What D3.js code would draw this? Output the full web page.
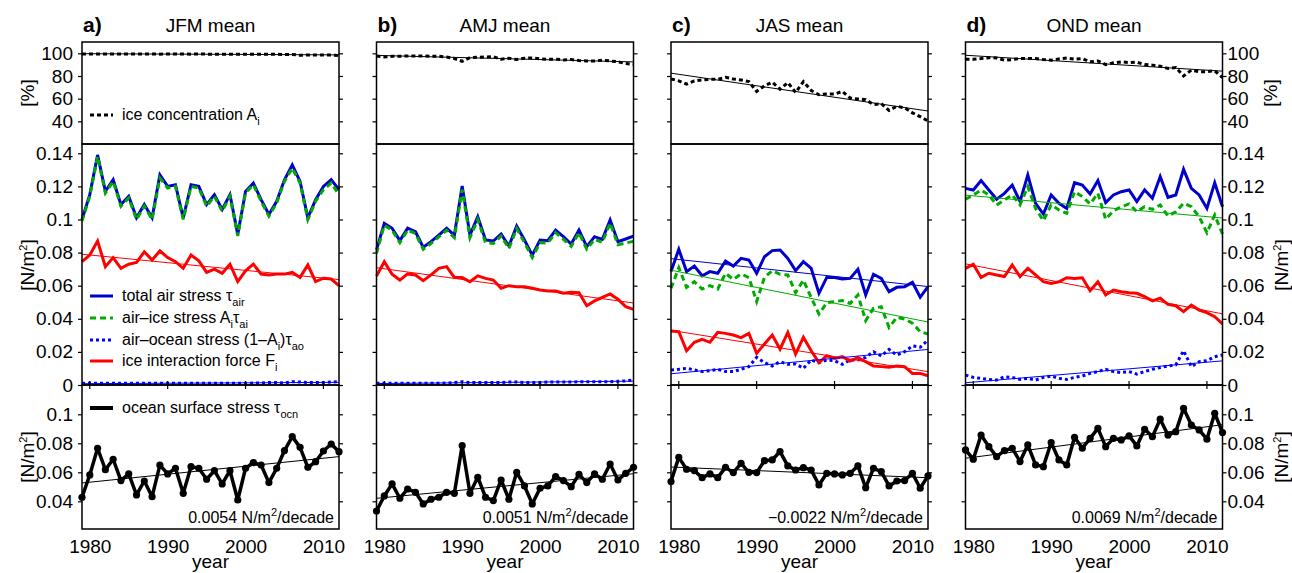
<!DOCTYPE html>
<html>
<head>
<meta charset="utf-8">
<script src="https://cdn.jsdelivr.net/npm/d3@7"></script>
<style>
body { margin: 0; background: #fff; }
text { font-family: "Liberation Sans", Arial, Helvetica, sans-serif; fill: #000; }
</style>
</head>
<body>
<svg id="chart" width="1292" height="573"></svg>
<script>
// years on the x axis
const years = d3.range(1979, 2013);
const xTicks = [1980, 1990, 2000, 2010];

// ice concentration [%]
const iceJFM = [99.5,99.4,99.5,99.5,99.4,99.5,99.5,99.4,99.4,99.5,99.3,99.4,99.4,99.4,99.3,99.4,99.3,99.3,99.2,99.3,99.2,99.3,99.1,99.2,99.2,99.1,99.0,99.0,98.3,98.6,98.6,98.5,98.6,98.0];
const iceAMJ = [97.7,96.8,97.4,97.4,97.7,97.7,97.7,97.4,97.4,96.8,95.4,93.0,96.2,96.5,96.8,97.1,94.8,95.7,94.5,95.7,95.9,95.1,94.8,94.8,94.2,94.5,93.6,93.3,93.3,93.9,93.3,92.5,91.0,90.4];
const iceJAS = [77.4,75.7,72.8,75.7,76.5,77.1,77.1,78.8,77.4,76.5,75.1,66.4,71.3,74.5,68.4,74.2,65.5,75.1,67.2,63.5,64.1,64.1,66.4,60.6,59.7,59.1,54.8,55.7,49.6,53.3,51.9,47.5,44.1,40.3];
const iceOND = [94.8,94.8,95.4,96.2,95.9,93.9,94.5,95.4,95.4,95.4,94.5,93.9,95.1,95.9,94.8,95.4,92.5,93.3,90.1,91.6,92.5,91.9,92.2,90.1,89.6,88.7,86.7,87.5,80.0,85.2,83.8,83.8,84.6,78.6];

// total air stress [N/m2]
const airJFM = [0.100,0.115,0.139,0.117,0.124,0.109,0.114,0.101,0.109,0.101,0.127,0.120,0.121,0.101,0.121,0.120,0.109,0.115,0.106,0.115,0.091,0.117,0.122,0.112,0.103,0.111,0.124,0.133,0.123,0.101,0.112,0.120,0.124,0.118];
const airAMJ = [0.0816,0.0977,0.0947,0.0872,0.0947,0.0926,0.0832,0.0866,0.0906,0.0947,0.0906,0.1202,0.0906,0.1017,0.0876,0.0870,0.0912,0.0840,0.0960,0.0876,0.0785,0.0876,0.0872,0.0936,0.0896,0.0852,0.0936,0.0836,0.0896,0.0880,0.0997,0.0866,0.0882,0.0900];
const airJAS = [0.0685,0.0820,0.0685,0.0719,0.0660,0.0685,0.0675,0.0749,0.0719,0.0765,0.0755,0.0675,0.0775,0.0812,0.0816,0.0765,0.0691,0.0745,0.0705,0.0554,0.0650,0.0650,0.0640,0.0644,0.0699,0.0544,0.0669,0.0644,0.0564,0.0590,0.0594,0.0620,0.0530,0.0594];
const airOND = [0.1188,0.1178,0.1235,0.1178,0.1122,0.1158,0.1208,0.1108,0.1269,0.1098,0.1033,0.1148,0.1098,0.1067,0.1222,0.1208,0.1154,0.1235,0.1102,0.1148,0.1168,0.1178,0.1108,0.1178,0.1128,0.1259,0.1134,0.1148,0.1303,0.1188,0.1148,0.1067,0.1222,0.1077];

// air-ice stress Ai*tau_ai
const aiJFM = [0.099,0.114,0.138,0.116,0.123,0.108,0.113,0.100,0.108,0.100,0.125,0.119,0.120,0.100,0.120,0.119,0.108,0.114,0.105,0.114,0.090,0.116,0.121,0.111,0.102,0.110,0.123,0.131,0.122,0.100,0.111,0.118,0.122,0.115];
const aiAMJ = [0.0795,0.0965,0.0935,0.0860,0.0935,0.0915,0.0820,0.0855,0.0895,0.0935,0.0890,0.1180,0.0890,0.1000,0.0860,0.0855,0.0900,0.0825,0.0945,0.0860,0.0770,0.0860,0.0858,0.0920,0.0880,0.0838,0.0920,0.0820,0.0880,0.0862,0.0978,0.0848,0.0858,0.0868];
const aiJAS = [0.0584,0.0709,0.0590,0.0624,0.0580,0.0600,0.0580,0.0675,0.0638,0.0671,0.0649,0.0504,0.0650,0.0691,0.0669,0.0665,0.0558,0.0634,0.0528,0.0429,0.0497,0.0504,0.0510,0.0493,0.0544,0.0389,0.0463,0.0473,0.0348,0.0409,0.0399,0.0373,0.0322,0.0308];
const aiOND = [0.1122,0.1148,0.1178,0.1148,0.1088,0.1118,0.1148,0.1088,0.1198,0.1067,0.0993,0.1088,0.1057,0.1037,0.1168,0.1138,0.1094,0.1158,0.1001,0.1053,0.1077,0.1094,0.1047,0.1077,0.1061,0.1088,0.1021,0.1047,0.1098,0.1077,0.1017,0.0920,0.1027,0.0912];

// air-ocean stress (1-Ai)*tau_ao
const aoJFM = [0.0010,0.0010,0.0010,0.0010,0.0010,0.0010,0.0010,0.0010,0.0010,0.0010,0.0010,0.0010,0.0010,0.0010,0.0010,0.0010,0.0010,0.0010,0.0010,0.0010,0.0010,0.0010,0.0012,0.0012,0.0015,0.0015,0.0012,0.0020,0.0018,0.0015,0.0015,0.0015,0.0018,0.0020];
const aoAMJ = [0.0010,0.0010,0.0010,0.0010,0.0010,0.0010,0.0010,0.0010,0.0010,0.0012,0.0015,0.0020,0.0015,0.0015,0.0015,0.0015,0.0015,0.0018,0.0018,0.0015,0.0015,0.0015,0.0018,0.0018,0.0018,0.0018,0.0020,0.0020,0.0020,0.0020,0.0020,0.0022,0.0025,0.0030];
const aoJAS = [0.0091,0.0095,0.0101,0.0091,0.0081,0.0087,0.0095,0.0081,0.0081,0.0095,0.0111,0.0167,0.0135,0.0115,0.0141,0.0125,0.0127,0.0101,0.0151,0.0135,0.0151,0.0147,0.0125,0.0151,0.0151,0.0167,0.0201,0.0175,0.0215,0.0181,0.0201,0.0236,0.0228,0.0272];
const aoOND = [0.0060,0.0046,0.0040,0.0034,0.0030,0.0050,0.0046,0.0034,0.0040,0.0030,0.0046,0.0054,0.0040,0.0034,0.0046,0.0054,0.0070,0.0081,0.0095,0.0081,0.0075,0.0081,0.0066,0.0081,0.0095,0.0105,0.0115,0.0121,0.0207,0.0111,0.0141,0.0147,0.0171,0.0181];

// ice interaction force Fi
const fiJFM = [0.0745,0.0785,0.0870,0.0715,0.0770,0.0705,0.0730,0.0740,0.0805,0.0755,0.0810,0.0770,0.0745,0.0705,0.0785,0.0750,0.0680,0.0700,0.0675,0.0730,0.0625,0.0690,0.0730,0.0670,0.0665,0.0670,0.0670,0.0680,0.0650,0.0725,0.0625,0.0645,0.0640,0.0600];
const fiAMJ = [0.0659,0.0745,0.0669,0.0634,0.0671,0.0665,0.0630,0.0665,0.0705,0.0715,0.0650,0.0649,0.0624,0.0659,0.0644,0.0634,0.0584,0.0600,0.0594,0.0594,0.0584,0.0574,0.0568,0.0568,0.0554,0.0560,0.0558,0.0479,0.0508,0.0530,0.0550,0.0518,0.0473,0.0457];
const fiJAS = [0.0326,0.0322,0.0207,0.0258,0.0276,0.0258,0.0318,0.0312,0.0302,0.0286,0.0312,0.0191,0.0248,0.0302,0.0217,0.0318,0.0187,0.0288,0.0207,0.0135,0.0177,0.0161,0.0171,0.0145,0.0165,0.0141,0.0115,0.0111,0.0107,0.0115,0.0111,0.0070,0.0070,0.0056];
const fiOND = [0.0705,0.0729,0.0650,0.0675,0.0665,0.0655,0.0725,0.0655,0.0705,0.0665,0.0624,0.0614,0.0624,0.0648,0.0644,0.0648,0.0570,0.0624,0.0544,0.0574,0.0564,0.0558,0.0554,0.0534,0.0508,0.0524,0.0487,0.0479,0.0443,0.0483,0.0453,0.0437,0.0413,0.0369];

// ocean surface stress tau_ocn
const ocnJFM = [0.0428,0.0582,0.0766,0.0618,0.0690,0.0543,0.0589,0.0444,0.0540,0.0432,0.0650,0.0589,0.0628,0.0455,0.0639,0.0628,0.0552,0.0611,0.0520,0.0611,0.0409,0.0628,0.0667,0.0650,0.0529,0.0628,0.0750,0.0846,0.0772,0.0634,0.0673,0.0747,0.0795,0.0742];
const ocnAMJ = [0.0333,0.0437,0.0520,0.0421,0.0485,0.0462,0.0382,0.0414,0.0428,0.0462,0.0455,0.0784,0.0455,0.0566,0.0428,0.0405,0.0547,0.0414,0.0600,0.0506,0.0382,0.0490,0.0506,0.0570,0.0543,0.0501,0.0586,0.0529,0.0589,0.0552,0.0657,0.0547,0.0593,0.0634];
const ocnJAS = [0.0536,0.0703,0.0621,0.0611,0.0563,0.0589,0.0563,0.0634,0.0598,0.0662,0.0600,0.0598,0.0680,0.0685,0.0743,0.0644,0.0616,0.0632,0.0616,0.0513,0.0593,0.0589,0.0582,0.0593,0.0644,0.0494,0.0628,0.0605,0.0506,0.0540,0.0543,0.0593,0.0490,0.0575];
const ocnOND = [0.0754,0.0690,0.0857,0.0777,0.0708,0.0749,0.0766,0.0674,0.0789,0.0651,0.0639,0.0805,0.0685,0.0651,0.0841,0.0766,0.0834,0.0903,0.0777,0.0834,0.0823,0.0851,0.0782,0.0897,0.0846,0.0966,0.0857,0.0880,0.1041,0.0926,0.0892,0.0828,0.1007,0.0874];

const letters = ["a)", "b)", "c)", "d)"];
const titles = ["JFM mean", "AMJ mean", "JAS mean", "OND mean"];
const slopes = ["0.0054", "0.0051", "\u22120.0022", "0.0069"];

const topTicks = [40, 60, 80, 100];
const midTicks = [0, 0.02, 0.04, 0.06, 0.08, 0.1, 0.12, 0.14];
const botTicks = [0.04, 0.06, 0.08, 0.1];

const panels = [
  {ice: iceJFM, air: airJFM, ai: aiJFM, ao: aoJFM, fi: fiJFM, ocn: ocnJFM, trends: ["fi", "ao"]},
  {ice: iceAMJ, air: airAMJ, ai: aiAMJ, ao: aoAMJ, fi: fiAMJ, ocn: ocnAMJ, trends: ["fi", "ao"]},
  {ice: iceJAS, air: airJAS, ai: aiJAS, ao: aoJAS, fi: fiJAS, ocn: ocnJAS, trends: ["air", "ai", "fi", "ao"]},
  {ice: iceOND, air: airOND, ai: aiOND, ao: aoOND, fi: fiOND, ocn: ocnOND, trends: ["ai", "fi", "ao"]}
];

const colors = {air: "#0000cc", ai: "#00aa00", ao: "#0000ff", fi: "#ff0000"};

// layout
const lefts = [82, 376.5, 671, 965.5];
const W = 257;
const rowTop = {y0: 42, y1: 144};
const rowMid = {y0: 144, y1: 385};
const rowBot = {y0: 385, y1: 529};

const svg = d3.select("#chart");
const x = d3.scaleLinear().domain([1979, 2012]).range([0, W]);
const yTop = d3.scaleLinear().domain([20, 110]).range([rowTop.y1 - rowTop.y0, 0]);
const yMid = d3.scaleLinear().domain([0, 0.1456]).range([rowMid.y1 - rowMid.y0, 0]);
const yBot = d3.scaleLinear().domain([0.0209, 0.1202]).range([rowBot.y1 - rowBot.y0, 0]);

const fmt = d => d === 0 ? "0" : String(+d.toFixed(2));

function fit(vals) {
  const mx = d3.mean(years), my = d3.mean(vals);
  let sxy = 0, sxx = 0;
  years.forEach((yr, i) => { sxy += (yr - mx) * (vals[i] - my); sxx += (yr - mx) * (yr - mx); });
  const b = sxy / sxx;
  return [1979, 2012].map(yr => ({yr: yr, v: my + b * (yr - mx)}));
}

function drawAxes(g, y, ticks, i) {
  const left = d3.axisLeft(y).tickValues(ticks).tickSize(4).tickSizeOuter(0).tickPadding(5)
    .tickFormat(i === 0 ? fmt : "");
  const right = d3.axisRight(y).tickValues(ticks).tickSize(4).tickSizeOuter(0).tickPadding(1)
    .tickFormat(i === 3 ? fmt : "");
  g.append("g").call(left).call(a => a.select(".domain").remove());
  g.append("g").attr("transform", `translate(${W},0)`).call(right).call(a => a.select(".domain").remove());
  g.selectAll(".tick text").attr("font-size", 19).attr("font-family", "Liberation Sans, Arial, sans-serif");
  g.selectAll(".tick line").attr("stroke", "#000").attr("stroke-width", 1.2);
}

// text with sub/superscripts; the shift back is put on the next piece
function addSub(t, parts) {
  let back = 0;
  parts.forEach(p => {
    if (p.sub) { t.append("tspan").attr("dy", 5 + back).attr("font-size", 11).text(p.sub); back = -5; }
    else if (p.sup) { t.append("tspan").attr("dy", -7 + back).attr("font-size", 11).text(p.sup); back = 7; }
    else { t.append("tspan").attr("dy", back).text(p.t); back = 0; }
  });
}

panels.forEach((p, i) => {
  const L = lefts[i];

  // headings
  svg.append("text").attr("x", L + 1).attr("y", 32).attr("font-size", 21).attr("font-weight", "bold").text(letters[i]);
  svg.append("text").attr("x", L + W / 2).attr("y", 32).attr("font-size", 19).attr("text-anchor", "middle").text(titles[i]);

  // ---- top row: ice concentration
  const gt = svg.append("g").attr("transform", `translate(${L},${rowTop.y0})`);
  drawAxes(gt, yTop, topTicks, i);
  const lineTop = d3.line().x((d, k) => x(years[k])).y(d => yTop(d));
  gt.append("path").datum(p.ice).attr("d", lineTop).attr("fill", "none")
    .attr("stroke", "#000").attr("stroke-width", 3).attr("stroke-dasharray", "4,3");
  gt.append("path").datum(fit(p.ice)).attr("fill", "none").attr("stroke", "#000").attr("stroke-width", 1)
    .attr("d", d3.line().x(d => x(d.yr)).y(d => yTop(d.v)));

  // ---- middle row: stresses
  const gm = svg.append("g").attr("transform", `translate(${L},${rowMid.y0})`);
  drawAxes(gm, yMid, midTicks, i);
  const lineMid = d3.line().x((d, k) => x(years[k])).y(d => yMid(d));
  gm.append("path").datum(p.air).attr("d", lineMid).attr("fill", "none").attr("stroke", colors.air).attr("stroke-width", 3);
  gm.append("path").datum(p.ai).attr("d", lineMid).attr("fill", "none").attr("stroke", colors.ai).attr("stroke-width", 3).attr("stroke-dasharray", "6,4");
  gm.append("path").datum(p.ao).attr("d", lineMid).attr("fill", "none").attr("stroke", colors.ao).attr("stroke-width", 3).attr("stroke-dasharray", "3,3");
  gm.append("path").datum(p.fi).attr("d", lineMid).attr("fill", "none").attr("stroke", colors.fi).attr("stroke-width", 3);
  p.trends.forEach(k => {
    gm.append("path").datum(fit(p[k])).attr("fill", "none").attr("stroke", colors[k]).attr("stroke-width", 1)
      .attr("d", d3.line().x(d => x(d.yr)).y(d => yMid(d.v)));
  });

  // ---- bottom row: ocean surface stress
  const gb = svg.append("g").attr("transform", `translate(${L},${rowBot.y0})`);
  drawAxes(gb, yBot, botTicks, i);
  const lineBot = d3.line().x((d, k) => x(years[k])).y(d => yBot(d));
  gb.append("path").datum(fit(p.ocn)).attr("fill", "none").attr("stroke", "#000").attr("stroke-width", 1)
    .attr("d", d3.line().x(d => x(d.yr)).y(d => yBot(d.v)));
  gb.append("path").datum(p.ocn).attr("d", lineBot).attr("fill", "none").attr("stroke", "#000").attr("stroke-width", 3.5).attr("stroke-linejoin", "round");
  gb.selectAll("circle").data(p.ocn).enter().append("circle")
    .attr("cx", (d, k) => x(years[k])).attr("cy", d => yBot(d)).attr("r", 3.6).attr("fill", "#000");

  const st = gb.append("text").attr("x", W - 5).attr("y", 138).attr("font-size", 16).attr("text-anchor", "end");
  addSub(st, [{t: slopes[i] + " N/m"}, {sup: "2"}, {t: "/decade"}]);

  // x ticks across the middle/bottom boundary
  svg.append("g").selectAll("line").data(xTicks).enter().append("line")
    .attr("x1", d => L + x(d)).attr("x2", d => L + x(d)).attr("y1", rowMid.y1 - 4).attr("y2", rowMid.y1 + 4)
    .attr("stroke", "#000").attr("stroke-width", 1.2);

  // x axis labels
  const gx = svg.append("g").attr("transform", `translate(${L},${rowBot.y1})`)
    .call(d3.axisBottom(x).tickValues(xTicks).tickSize(0).tickPadding(11).tickFormat(d3.format("d")));
  gx.select(".domain").remove();
  gx.selectAll("text").attr("font-size", 19).attr("font-family", "Liberation Sans, Arial, sans-serif");
  svg.append("text").attr("x", L + W / 2).attr("y", 568).attr("font-size", 19).attr("text-anchor", "middle").text("year");

  // frames
  [rowTop, rowMid, rowBot].forEach(r => {
    svg.append("rect").attr("x", L).attr("y", r.y0).attr("width", W).attr("height", r.y1 - r.y0)
      .attr("fill", "none").attr("stroke", "#000").attr("stroke-width", 1.5);
  });
});

// legends in panel a
const LA = lefts[0];
function legendRow(y, style, parts) {
  svg.append("line").attr("x1", LA + 8).attr("x2", LA + 31).attr("y1", y).attr("y2", y)
    .attr("stroke", style.color).attr("stroke-width", style.w || 3).attr("stroke-dasharray", style.dash || null);
  const t = svg.append("text").attr("x", LA + 40).attr("y", y + 5).attr("font-size", 16);
  addSub(t, parts);
}
legendRow(115, {color: "#000", dash: "4,3"}, [{t: "ice concentration A"}, {sub: "i"}]);
legendRow(296, {color: colors.air}, [{t: "total air stress \u03c4"}, {sub: "air"}]);
legendRow(318, {color: colors.ai, dash: "6,4"}, [{t: "air\u2013ice stress A"}, {sub: "i"}, {t: "\u03c4"}, {sub: "ai"}]);
legendRow(340, {color: colors.ao, dash: "3,3"}, [{t: "air\u2013ocean stress (1\u2013A"}, {sub: "i"}, {t: ")\u03c4"}, {sub: "ao"}]);
legendRow(361, {color: colors.fi}, [{t: "ice interaction force F"}, {sub: "i"}]);
legendRow(408, {color: "#000", w: 4}, [{t: "ocean surface stress \u03c4"}, {sub: "ocn"}]);

// y axis unit labels
function unitLabel(cx, cy, sup) {
  const t = svg.append("text").attr("transform", `translate(${cx},${cy}) rotate(-90)`)
    .attr("font-size", 19).attr("text-anchor", "middle");
  if (sup) addSub(t, [{t: "[N/m"}, {sup: "2"}, {t: "]"}]);
  else t.text("[%]");
}
unitLabel(34, 93, false);
unitLabel(34, 265, true);
unitLabel(34, 457, true);
unitLabel(1277, 93, false);
unitLabel(1288, 265, true);
unitLabel(1288, 457, true);
</script>
</body>
</html>
